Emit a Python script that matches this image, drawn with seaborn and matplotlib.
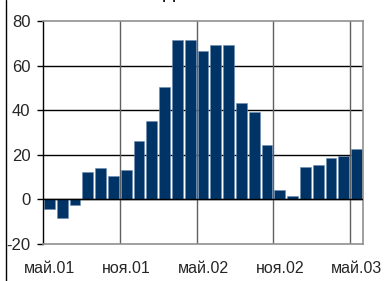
import matplotlib
matplotlib.use('Agg')
import matplotlib.pyplot as plt
from matplotlib.lines import Line2D
import seaborn as sns
import pandas as pd

# Monthly values, May 2001 .. May 2003
months = ['май.01', 'июн.01', 'июл.01', 'авг.01', 'сен.01', 'окт.01',
          'ноя.01', 'дек.01', 'янв.02', 'фев.02', 'мар.02', 'апр.02',
          'май.02', 'июн.02', 'июл.02', 'авг.02', 'сен.02', 'окт.02',
          'ноя.02', 'дек.02', 'янв.03', 'фев.03', 'мар.03', 'апр.03',
          'май.03']
values = [-4.4, -8.5, -2.4, 12.4, 14.2, 10.3, 13.3, 26.3, 35.3, 50.5,
          71.5, 71.5, 66.5, 69.4, 69.4, 43.2, 39.1, 24.2, 4.4, 1.4,
          14.4, 15.3, 18.5, 19.4, 22.4]
shown_labels = ['май.01', 'ноя.01', 'май.02', 'ноя.02', 'май.03']

df = pd.DataFrame({'month': months, 'value': values})

sns.set_style('white')
plt.rcParams['font.family'] = ['Liberation Sans', 'DejaVu Sans']

fig = plt.figure(figsize=(3.84, 2.81), dpi=100)
ax = fig.add_axes([43 / 384, 1 - 244 / 281, 320 / 384, 223 / 281])

# Horizontal grid black, vertical grid grey at half-year boundaries
ax.set_axisbelow(True)
for y in [0, 20, 40, 60]:
    ax.axhline(y, color='black', lw=1, zorder=0)
for x in [5.5, 11.5, 17.5, 23.5]:
    ax.axvline(x, color='#606060', lw=1, zorder=0)

sns.barplot(data=df, x='month', y='value', color='#003366', width=0.83,
            edgecolor='#6d8db3', linewidth=0.4, saturation=1, ax=ax, zorder=2)
ax.axhline(0, color='black', lw=1, zorder=3)

ax.set_xlim(-0.5, len(months) - 0.5)
ax.set_ylim(-20, 80)
ax.set_yticks([-20, 0, 20, 40, 60, 80])
ax.set_yticklabels(['-20', '0', '20', '40', '60', '80'])
ax.set_xticks([months.index(m) for m in shown_labels])
ax.set_xticklabels(shown_labels)
ax.set_xlabel('')
ax.set_ylabel('')

ax.tick_params(axis='y', length=4, width=1, color='black', pad=5,
               labelsize=12, direction='out', left=True)
ax.tick_params(axis='x', length=0, pad=12.5, labelsize=11.5)

for side in ['top', 'right', 'bottom']:
    ax.spines[side].set_color('#909090')
    ax.spines[side].set_linewidth(1.2)
ax.spines['left'].set_color('black')
ax.spines['left'].set_linewidth(1)

# Frame line at the left edge of the cropped picture
fig.add_artist(Line2D([5.5 / 384, 5.5 / 384], [0, 1], color='black', lw=1))

# Title cut off by the top of the picture (as in the reference crop)
fig.text(0.441, 1.008, 'д', fontsize=15, ha='center', va='baseline',
         color='black')

fig.savefig('out.png', dpi=100)
